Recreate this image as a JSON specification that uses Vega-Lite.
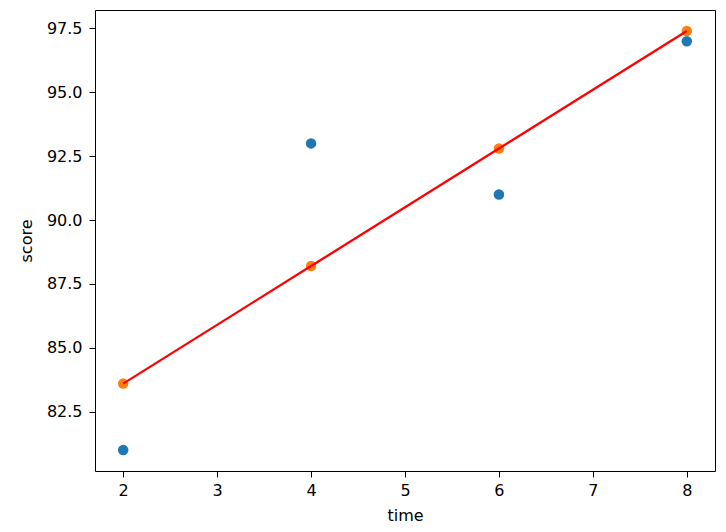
{
  "$schema": "https://vega.github.io/schema/vega-lite/v6.json",
  "width": 620,
  "height": 461,
  "autosize": {"type": "none"},
  "padding": {"left": 95, "top": 10, "right": 11, "bottom": 61},
  "background": "white",
  "config": {
    "view": {"stroke": "#000000", "strokeWidth": 1},
    "font": "DejaVu Sans",
    "axis": {
      "grid": false,
      "domain": false,
      "tickColor": "#000000",
      "tickSize": 6,
      "labelColor": "#000000",
      "labelFont": "DejaVu Sans",
      "labelFontSize": 16,
      "titleFont": "DejaVu Sans",
      "titleFontSize": 16,
      "titleFontWeight": "normal",
      "titleColor": "#000000",
      "labelPadding": 5
    }
  },
  "data": {
    "values": [
      {"time": 2, "score": 81, "predicted": 83.6},
      {"time": 4, "score": 93, "predicted": 88.2},
      {"time": 6, "score": 91, "predicted": 92.8},
      {"time": 8, "score": 97, "predicted": 97.4}
    ]
  },
  "layer": [
    {
      "mark": {"type": "point", "filled": true, "size": 110, "opacity": 1, "color": "#1f77b4"},
      "encoding": {
        "x": {"field": "time", "type": "quantitative", "scale": {"domain": [1.7, 8.3], "nice": false, "zero": false},
          "axis": {"values": [2, 3, 4, 5, 6, 7, 8], "format": "d", "title": "time", "titlePadding": 9}},
        "y": {"field": "score", "type": "quantitative", "scale": {"domain": [80.18, 98.22], "nice": false, "zero": false},
          "axis": {"values": [82.5, 85, 87.5, 90, 92.5, 95, 97.5], "format": ".1f", "title": "score", "titlePadding": 12, "labelPadding": 7}}
      }
    },
    {
      "mark": {"type": "point", "filled": true, "size": 110, "opacity": 1, "color": "#ff7f0e"},
      "encoding": {
        "x": {"field": "time", "type": "quantitative"},
        "y": {"field": "predicted", "type": "quantitative"}
      }
    },
    {
      "mark": {"type": "line", "color": "#ff0000", "strokeWidth": 2.3},
      "encoding": {
        "x": {"field": "time", "type": "quantitative"},
        "y": {"field": "predicted", "type": "quantitative"}
      }
    }
  ]
}
